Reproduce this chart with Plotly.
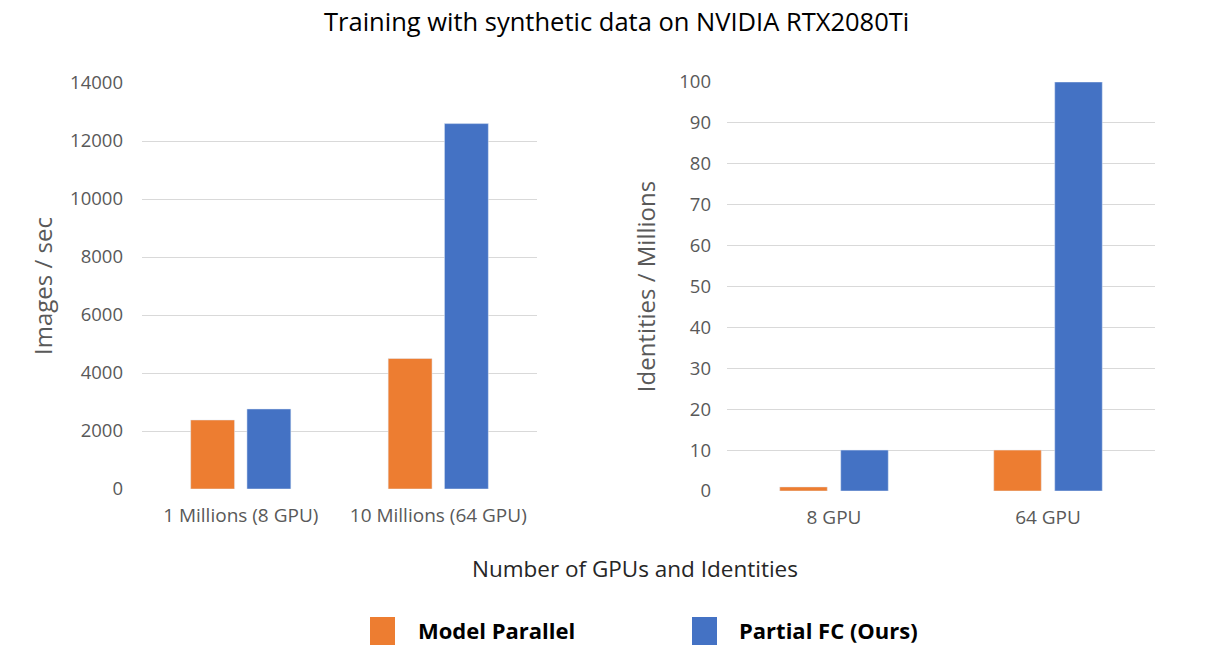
import plotly.graph_objects as go
from plotly.subplots import make_subplots

# data
throughput_cats = ["1 Millions (8 GPU)", "10 Millions (64 GPU)"]
throughput_model_parallel = [2380, 4500]
throughput_partial_fc = [2760, 12600]

identity_cats = ["8 GPU", "64 GPU"]
identity_model_parallel = [1, 10]
identity_partial_fc = [10, 100]

series_names = ["Model Parallel", "Partial FC (Ours)"]
ORANGE = "#ED7D31"
BLUE = "#4472C4"
GREY = "#595959"
FONT = "Open Sans"

# the page body adds an 8px margin, so lay out on a slightly smaller canvas
OFF = 8
W, H = 1216 - OFF, 663 - OFF


def px(x):
    return (x - OFF) / W


def py(y):
    return 1 - (y - OFF) / H


fig = make_subplots(rows=1, cols=2)

fig.add_trace(go.Bar(x=throughput_cats, y=throughput_model_parallel, name=series_names[0],
                     marker_color=ORANGE, showlegend=False), row=1, col=1)
fig.add_trace(go.Bar(x=throughput_cats, y=throughput_partial_fc, name=series_names[1],
                     marker_color=BLUE, showlegend=False), row=1, col=1)
fig.add_trace(go.Bar(x=identity_cats, y=identity_model_parallel, name=series_names[0],
                     marker_color=ORANGE, showlegend=False), row=1, col=2)
fig.add_trace(go.Bar(x=identity_cats, y=identity_partial_fc, name=series_names[1],
                     marker_color=BLUE, showlegend=False), row=1, col=2)

fig.update_xaxes(showline=False, zeroline=False, automargin=False, ticklabelstandoff=13,
                 tickfont=dict(family=FONT, size=19, color=GREY))
fig.update_xaxes(domain=[px(142), px(537)], row=1, col=1)
fig.update_xaxes(domain=[px(727), px(1155)], row=1, col=2)

fig.update_yaxes(showline=False, zeroline=False, automargin=False,
                 showgrid=True, gridcolor="#D9D9D9", gridwidth=1.3,
                 tickfont=dict(family=FONT, size=18.5, color=GREY))
fig.update_yaxes(domain=[py(489), py(83)], range=[0, 14000], dtick=2000, tickformat="d",
                 ticklabelstandoff=18,
                 title=dict(text="Images / sec", font=dict(family=FONT, size=24, color=GREY), standoff=10),
                 row=1, col=1)
fig.update_yaxes(domain=[py(491), py(82)], range=[0, 100], dtick=10,
                 ticklabelstandoff=15,
                 title=dict(text="Identities / Millions", font=dict(family=FONT, size=24, color=GREY), standoff=16),
                 row=1, col=2)

# chart title and shared x title
fig.add_annotation(text="Training with synthetic data on NVIDIA RTX2080Ti", x=px(616), y=py(21),
                   xref="paper", yref="paper", xanchor="center", yanchor="middle", showarrow=False,
                   font=dict(family=FONT, size=25.5, color="#000000"))
fig.add_annotation(text="Number of GPUs and Identities", x=px(635), y=py(568),
                   xref="paper", yref="paper", xanchor="center", yanchor="middle", showarrow=False,
                   font=dict(family=FONT, size=22.5, color="#262626"))

# legend drawn by hand to get the large square swatches
legend_items = [(370, ORANGE, 416), (692, BLUE, 737)]
for (sx, color, tx), name in zip(legend_items, series_names):
    fig.add_shape(type="rect", xref="paper", yref="paper",
                  x0=px(sx), x1=px(sx + 25), y0=py(645), y1=py(617),
                  fillcolor=color, line_width=0)
    fig.add_annotation(text=f"<b>{name}</b>", x=px(tx), y=py(630), xref="paper", yref="paper",
                       xanchor="left", yanchor="middle", showarrow=False,
                       font=dict(family=FONT, size=22, color="#000000"))

fig.update_layout(
    width=W, height=H,
    margin=dict(l=0, r=0, t=0, b=0, autoexpand=False),
    barmode="group", bargap=0.43, bargroupgap=0.22,
    plot_bgcolor="white", paper_bgcolor="white",
    font=dict(family=FONT),
)

fig.write_html("out.html")
